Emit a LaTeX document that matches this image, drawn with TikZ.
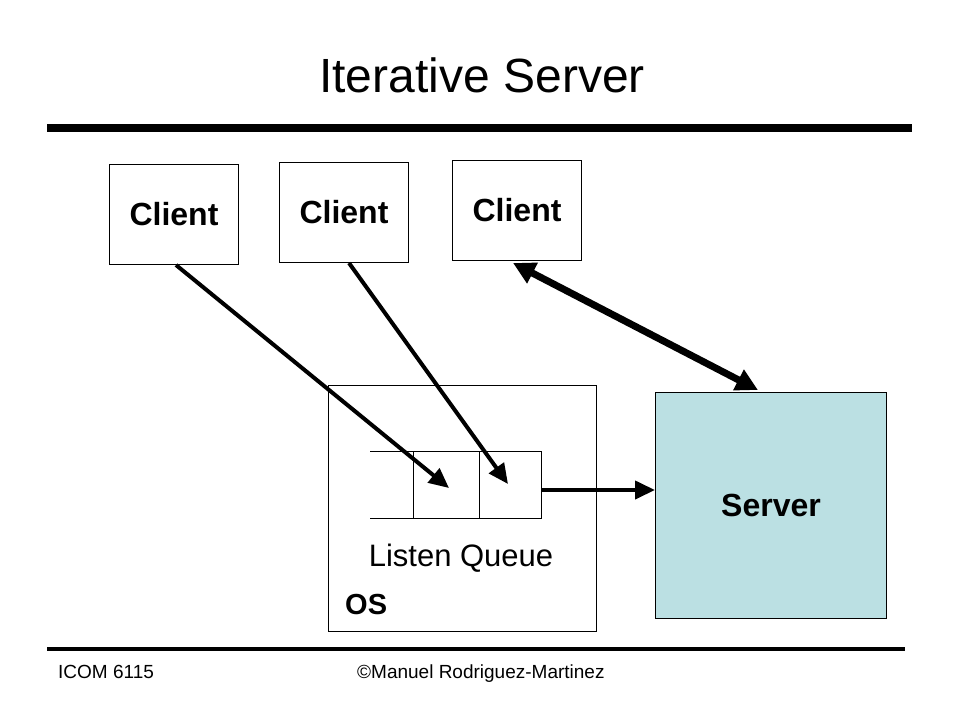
\documentclass[tikz,border=0pt]{standalone}
\usepackage{fontspec}
\setmainfont{Liberation Sans}
\usetikzlibrary{arrows.meta,calc}
\definecolor{serverblue}{RGB}{187,224,227}
\begin{document}
\begin{tikzpicture}[x=1pt,y=-1pt,
  box/.style={draw,line width=1pt,inner sep=0pt,anchor=north west},
  clientbox/.style={box,minimum width=129pt,minimum height=100pt,font=\fontsize{32}{36}\selectfont\bfseries},
  thinarrow/.style={line width=4pt,-{Triangle[length=20pt,width=18pt]}},
  thickarrow/.style={line width=7pt,{Triangle[length=22pt,width=22pt]}-{Triangle[length=22pt,width=22pt]}},
  rule/.style={line width=#1},
  foot/.style={font=\fontsize{19}{21}\selectfont,anchor=base west,inner sep=0pt}]
\useasboundingbox (0,0) rectangle (960,720);
% title
\node[font=\fontsize{48}{52}\selectfont,anchor=base] (title) at (482,92) {Iterative Server};
\coordinate (tl) at (47,128); \coordinate (tr) at (912,128);
\draw[rule=8pt] (tl) -- (tr);
% clients
\node[clientbox] (c1) at (109,164) {Client};
\node[clientbox] (c2) at (279,162) {Client};
\node[clientbox] (c3) at (452,160) {Client};
% OS box
\node[box,minimum width=268pt,minimum height=246pt] (os) at (328,385) {};
\node[font=\fontsize{31}{34}\selectfont,anchor=base] (lq) at (461,566) {Listen Queue};
\node[font=\fontsize{29}{32}\selectfont\bfseries,anchor=base west,inner sep=0pt] (osl) at (345,614) {OS};
% queue
\coordinate (qa) at (370,451); \coordinate (qb) at (541,451);
\coordinate (qc) at (541,518); \coordinate (qd) at (370,518);
\draw[line width=1pt] (qa) -- (qb) -- (qc) -- (qd);
\coordinate (d1t) at (413,451); \coordinate (d1b) at (413,518);
\coordinate (d2t) at (479,451); \coordinate (d2b) at (479,518);
\draw[line width=1pt] (d1t) -- (d1b) (d2t) -- (d2b);
\coordinate (qout) at (541,490);
% server
\node[box,fill=serverblue,minimum width=231pt,minimum height=226pt] (server) at (655,392) {};
\node[font=\fontsize{32}{36}\selectfont\bfseries] (srvl) at (server.center) {Server};
% arrows
\coordinate (q1) at (449,488);
\coordinate (q2) at (508,484);
\draw[thinarrow] ($(c1.south)+(2,0)$) -- (q1);
\draw[thinarrow] ($(c2.south)+(5,0)$) -- (q2);
\draw[thinarrow] (qout) -- (qout -| server.west);
\draw[thickarrow] ($(c3.south)+(-4,2)$) -- ($(server.north)+(-13,-2)$);
% footer
\coordinate (bl) at (47,649); \coordinate (br) at (905,649);
\draw[rule=3.5pt] (bl) -- (br);
\node[foot] (f1) at (58,678) {ICOM 6115};
\node[foot] (f2) at (357,678) {©Manuel Rodriguez-Martinez};
\end{tikzpicture}
\end{document}
